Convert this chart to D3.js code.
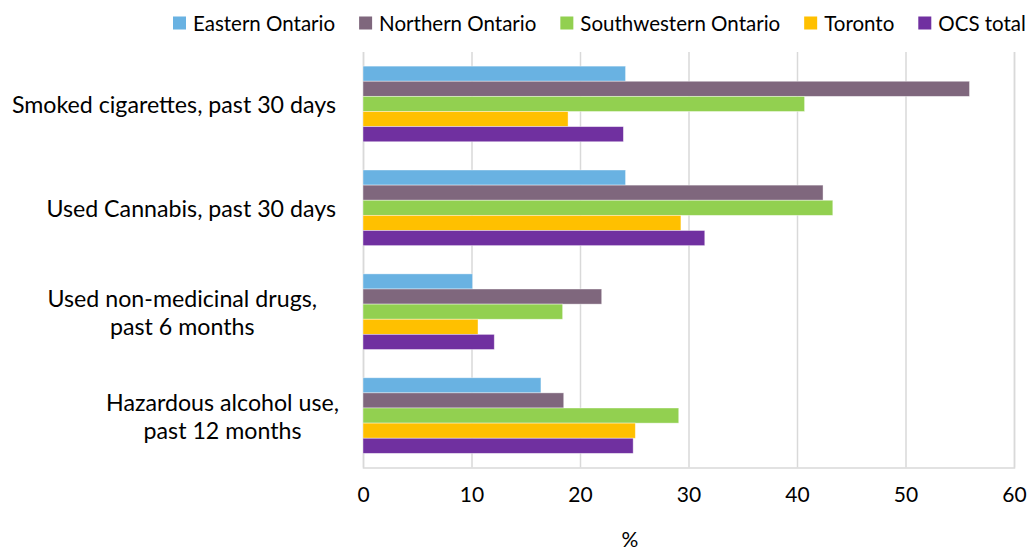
<!DOCTYPE html>
<html>
<head>
<meta charset="utf-8">
<script src="https://cdn.jsdelivr.net/npm/d3@7"></script>
<style>
  html, body { margin: 0; padding: 0; background: #fff; }
  svg { display: block; font-family: Lato, "Open Sans", sans-serif; }
</style>
</head>
<body>
<svg id="chart" width="1029" height="549"></svg>
<script>
const categories = [
  ["Smoked cigarettes, past 30 days"],
  ["Used Cannabis, past 30 days"],
  ["Used non-medicinal drugs,", "past 6 months"],
  ["Hazardous alcohol use,", "past 12 months"]
];
const seriesNames = ["Eastern Ontario", "Northern Ontario", "Southwestern Ontario", "Toronto", "OCS total"];
const seriesColors = ["#69B2E2", "#7F677D", "#92D050", "#FFC000", "#7030A0"];
const easternOntario = [24.2, 24.2, 10.1, 16.4];
const northernOntario = [55.9, 42.4, 22.0, 18.5];
const southwesternOntario = [40.7, 43.3, 18.4, 29.1];
const toronto = [18.9, 29.3, 10.6, 25.1];
const ocsTotal = [24.0, 31.5, 12.1, 24.9];
const xTicks = [0, 10, 20, 30, 40, 50, 60];
const xTitle = "%";

const seriesValues = [easternOntario, northernOntario, southwesternOntario, toronto, ocsTotal];

// layout
const labelRightEdges = [336, 336, 317, 339];
const W = 1029, H = 549;
const plotTop = 52, plotBottom = 467.5, plotLeft = 363, plotRight = 1014;

const svg = d3.select("#chart");

const x = d3.scaleLinear().domain([0, 60]).range([plotLeft, plotRight]);
const y = d3.scaleBand().domain(d3.range(categories.length)).range([plotTop, plotBottom])
  .paddingInner(0.272).paddingOuter(0.136);
const ySub = d3.scaleBand().domain(d3.range(seriesNames.length)).range([0, y.bandwidth()]);

// gridlines
const grid = svg.append("g")
  .attr("transform", `translate(0,${plotBottom})`)
  .call(d3.axisBottom(x).tickValues(xTicks).tickSize(-(plotBottom - plotTop)).tickFormat(""));
grid.selectAll("line").attr("stroke", "#D9D9D9").attr("stroke-width", 1.5);
grid.select(".domain").attr("stroke", "#D9D9D9").attr("stroke-width", 1.5);

// tick labels
const tl = svg.append("g")
  .attr("transform", `translate(0,${plotBottom})`)
  .call(d3.axisBottom(x).tickValues(xTicks).tickSize(0).tickPadding(20).tickFormat(d3.format("d")));
tl.select(".domain").remove();
tl.selectAll("text").attr("font-size", 21).attr("fill", "#000").attr("font-family", "Lato, sans-serif");

// bars
const groups = svg.append("g").selectAll("g")
  .data(categories.map((c, i) => i))
  .join("g")
  .attr("transform", i => `translate(0,${y(i)})`);
groups.selectAll("rect")
  .data(i => seriesValues.map((vals, s) => ({ s, v: vals[i] })))
  .join("rect")
  .attr("x", x(0))
  .attr("y", d => ySub(d.s))
  .attr("width", d => x(d.v) - x(0))
  .attr("height", ySub.bandwidth())
  .attr("fill", d => seriesColors[d.s])
  .attr("stroke", "#ffffff")
  .attr("stroke-opacity", 0.5)
  .attr("stroke-width", 0.8);

// category labels
const lineH = 28;
categories.forEach((lines, i) => {
  const cy = y(i) + y.bandwidth() / 2;
  const g = svg.append("g");
  const texts = lines.map((t, k) => g.append("text")
    .text(t)
    .attr("font-size", 23.2)
    .attr("fill", "#000")
    .attr("text-anchor", "middle")
    .attr("dominant-baseline", "central")
    .attr("y", cy + (k - (lines.length - 1) / 2) * lineH));
  const maxW = d3.max(texts, t => t.node().getComputedTextLength());
  texts.forEach(t => t.attr("x", labelRightEdges[i] - maxW / 2));
});

// x title
svg.append("text").text(xTitle)
  .attr("x", 630).attr("y", 538)
  .attr("text-anchor", "middle").attr("dominant-baseline", "central")
  .attr("font-size", 21).attr("fill", "#000");

// legend
const legend = svg.append("g").attr("transform", "translate(173,23)");
let lx = 0;
seriesNames.forEach((name, i) => {
  const g = legend.append("g").attr("transform", `translate(${lx},0)`);
  g.append("rect").attr("x", 0).attr("y", -6.5).attr("width", 13).attr("height", 13).attr("fill", seriesColors[i]);
  const t = g.append("text").text(name).attr("x", 20).attr("dominant-baseline", "central")
    .attr("font-size", 20.5).attr("fill", "#000");
  lx += 20 + t.node().getComputedTextLength() + 24;
});
</script>
</body>
</html>
